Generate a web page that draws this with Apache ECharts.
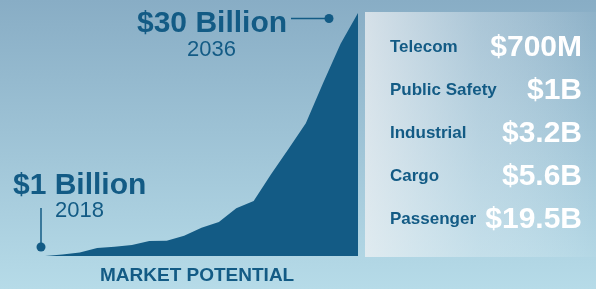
<!DOCTYPE html>
<html>
<head>
<meta charset="utf-8">
<script src="https://cdn.jsdelivr.net/npm/echarts@6/dist/echarts.min.js"></script>
<style>
  html, body { margin: 0; padding: 0; }
  #chart { width: 596px; height: 289px; }
</style>
</head>
<body>
<div id="chart"></div>
<script>
// market size in $ billions
var years = [2018, 2019, 2020, 2021, 2022, 2023, 2024, 2025, 2026, 2027,
             2028, 2029, 2030, 2031, 2032, 2033, 2034, 2035, 2036];
var market = [0, 0.2, 0.42, 1.0, 1.14, 1.36, 1.86, 1.89, 2.5, 3.5,
              4.2, 5.9, 6.8, 10.1, 13.2, 16.4, 21.4, 26.2, 30];

// breakdown panel
var segments = ['Telecom', 'Public Safety', 'Industrial', 'Cargo', 'Passenger'];
var segmentValues = ['$700M', '$1B', '$3.2B', '$5.6B', '$19.5B'];

var dark = '#135b85';
var font = '"Liberation Sans", Arial, sans-serif';

var myChart = echarts.init(document.getElementById('chart'));

var pairs = years.map(function (y, i) { return [y, market[i]]; });

// panel rows
var panelItems = [];
segments.forEach(function (name, i) {
	var cy = 47.5 + i * 43;
	panelItems.push({
		type: 'text', z: 10, x: 390, y: cy,
		style: { text: name, fill: dark, font: 'bold 17px ' + font,
			align: 'left', verticalAlign: 'middle' }
	});
	panelItems.push({
		type: 'text', z: 10, x: 582, y: cy,
		style: { text: segmentValues[i], fill: '#ffffff', font: 'bold 30px ' + font,
			align: 'right', verticalAlign: 'middle' }
	});
});

myChart.setOption({
	backgroundColor: {
		type: 'linear', x: 0, y: 0, x2: 0, y2: 1,
		colorStops: [
			{ offset: 0, color: '#88adc5' },
			{ offset: 1, color: '#b6dbe8' }
		]
	},
	animation: false,
	grid: { left: 45, right: 238, top: 13, bottom: 33 },
	xAxis: { type: 'value', min: 2018, max: 2036, show: false },
	yAxis: { type: 'value', min: 0, max: 30, show: false },
	series: [{
		type: 'line',
		data: pairs,
		symbol: 'none',
		lineStyle: { width: 0 },
		areaStyle: { color: dark, opacity: 1 },
		z: 3
	}],
	graphic: [
		// breakdown panel background
		{
			type: 'rect', z: 1,
			shape: { x: 365, y: 12, width: 231, height: 245 },
			style: {
				fill: {
					type: 'linear', x: 0, y: 0, x2: 1, y2: 0,
					colorStops: [
						{ offset: 0, color: 'rgba(240,242,244,0.74)' },
						{ offset: 0.5, color: 'rgba(232,240,245,0.35)' },
						{ offset: 1, color: 'rgba(255,255,255,0.03)' }
					]
				}
			}
		}
	].concat(panelItems).concat([
		// end annotation
		{
			type: 'text', z: 10, left: 137, top: 9,
			style: { text: '$30 Billion', fill: dark, font: 'bold 30px ' + font }
		},
		{
			type: 'text', z: 10, left: 187, top: 39,
			style: { text: '2036', fill: dark, font: '22px ' + font }
		},
		{
			type: 'line', z: 10,
			shape: { x1: 291, y1: 18.5, x2: 329, y2: 18.5 },
			style: { stroke: dark, lineWidth: 1.5 }
		},
		{
			type: 'circle', z: 10,
			shape: { cx: 329, cy: 18.5, r: 4.5 },
			style: { fill: dark }
		},
		// start annotation
		{
			type: 'text', z: 10, left: 13, top: 171,
			style: { text: '$1 Billion', fill: dark, font: 'bold 30px ' + font }
		},
		{
			type: 'text', z: 10, left: 55, top: 200,
			style: { text: '2018', fill: dark, font: '22px ' + font }
		},
		{
			type: 'line', z: 10,
			shape: { x1: 41, y1: 208, x2: 41, y2: 247 },
			style: { stroke: dark, lineWidth: 1.5 }
		},
		{
			type: 'circle', z: 10,
			shape: { cx: 41, cy: 247, r: 4.5 },
			style: { fill: dark }
		},
		// caption
		{
			type: 'text', z: 10, left: 100, top: 266,
			style: { text: 'MARKET POTENTIAL', fill: dark, font: 'bold 19px ' + font }
		}
	])
});

window.onresize = function () {
	myChart.resize();
};
</script>
</body>
</html>
